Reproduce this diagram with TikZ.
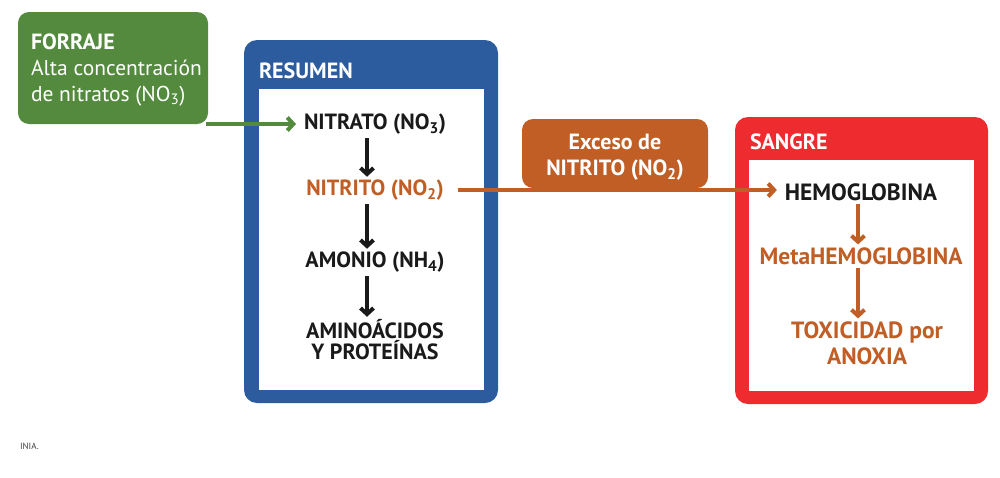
\documentclass[tikz,border=0pt]{standalone}
\usepackage{fontspec}
\setmainfont{PT Sans}
\usetikzlibrary{arrows.meta}
\definecolor{forrajegreen}{HTML}{538A3E}
\definecolor{resumenblue}{HTML}{2C5C9E}
\definecolor{nitritoorange}{HTML}{C05E26}
\definecolor{sangrered}{HTML}{EE2B2F}
\definecolor{inktext}{HTML}{1A1A1A}
\begin{document}
\begin{tikzpicture}
  [x=1pt,y=-1pt,
   every node/.style={inner sep=0pt,outer sep=0pt,font=\fontsize{22}{22}\selectfont\bfseries},
   bigger/.style={font=\fontsize{23.5}{22}\selectfont\bfseries},
   panel/.style={rounded corners=13pt,minimum width=#1},
   inset/.style={fill=white,minimum width=225pt},
   title/.style={anchor=west,text=white},
   flow/.style={line width=4.5pt,-{Straight Barb[length=6pt,width=13pt,line width=4pt]}},
   link/.style={line width=3.5pt,-{Straight Barb[length=6pt,width=13pt,line width=4pt]}}]
  \useasboundingbox (0,0) rectangle (1000,477);

  % boxes
  \node[panel=190pt,fill=forrajegreen,minimum height=112pt,rounded corners=11pt] (forraje) at (113,68) {};
  \node[panel=254pt,fill=resumenblue,minimum height=363pt] (resumen) at (371,221.5) {};
  \node[inset,minimum height=301pt] (resumenin) at (371.5,239.5) {};
  \node[panel=186pt,fill=nitritoorange,minimum height=69pt,rounded corners=11pt] (exceso) at (615,153.5) {};
  \node[panel=253pt,fill=sangrered,minimum height=287pt] (sangre) at (861.5,260.5) {};
  \node[inset,minimum height=231pt] (sangrein) at (861.5,275.5) {};

  % titles
  \node[title,align=left] (forrajetxt) at (31,70) {FORRAJE\\[4pt]{\mdseries\fontsize{21.5}{22}\selectfont Alta concentración}\\[4pt]{\mdseries\fontsize{21.5}{22}\selectfont de nitratos (NO\textsubscript{3})}};
  \node[title] (resumentxt) at (259,71) {RESUMEN};
  \node[text=white,align=center] (excesotxt) at (615,157) {Exceso de\\[4pt]NITRITO (NO\textsubscript{2})};
  \node[title] (sangretxt) at (750,142) {SANGRE};

  % resumen steps
  \node[text=inktext] (nitrato) at (375,124) {NITRATO (NO\textsubscript{3})};
  \node[text=nitritoorange] (nitrito) at (375,190) {NITRITO (NO\textsubscript{2})};
  \node[text=inktext] (amonio) at (375,262) {AMONIO (NH\textsubscript{4})};
  \node[text=inktext,align=center] (amino) at (375,340) {AMINOÁCIDOS\\[-1pt]Y PROTEÍNAS};

  % sangre steps
  \node[bigger,text=inktext] (hemo) at (861,192) {HEMOGLOBINA};
  \node[bigger,text=nitritoorange] (metahemo) at (861,256) {MetaHEMOGLOBINA};
  \node[bigger,text=nitritoorange,align=center] (toxicidad) at (867,343) {TOXICIDAD por\\[4pt]ANOXIA};

  \node[font=\fontsize{9}{11}\selectfont,text=black!75,anchor=west] (fuente) at (20,446) {INIA.};

  % connectors
  \foreach \from/\to in {nitrato/nitrito, nitrito/amonio, amonio/amino}
    \draw[flow,inktext,shorten <=4pt,shorten >=3pt] ([xshift=-8pt]\from.south) -- ([xshift=-8pt]\to.north);
  \foreach \from/\to in {hemo/metahemo, metahemo/toxicidad}
    \draw[flow,nitritoorange,line width=4pt,shorten <=3pt,shorten >=3pt] ([xshift=-3pt]\from.south) -- ([xshift=-3pt]\from.south |- \to.north);
  \draw[link,forrajegreen,shorten >=8pt] ([xshift=-2pt]forraje.east |- nitrato.west) -- (nitrato.west);
  \draw[link,nitritoorange,shorten <=14pt,shorten >=8pt] (nitrito.east) -- (nitrito.east -| hemo.west);
\end{tikzpicture}
\end{document}
